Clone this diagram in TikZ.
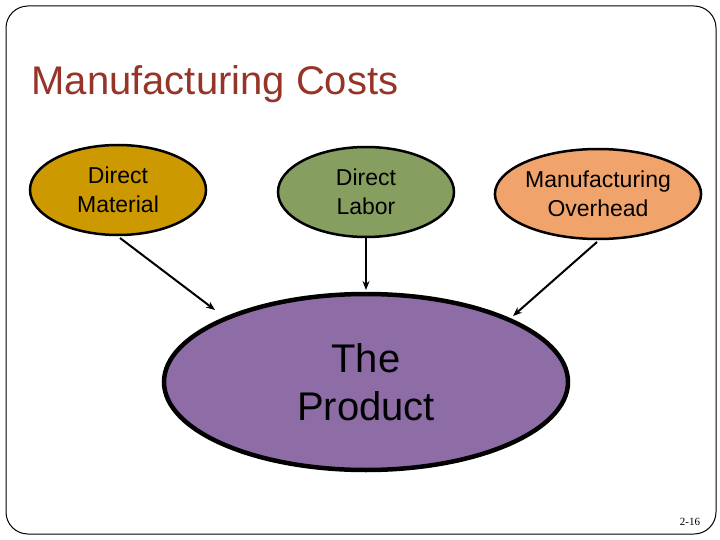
\documentclass[tikz,border=0pt]{standalone}
\usepackage{fontspec}
\setmainfont{Liberation Sans}
\newfontfamily\pagefont{Liberation Serif}
\usetikzlibrary{shapes.geometric,arrows.meta}
\definecolor{titlered}{RGB}{150,52,40}
\definecolor{matgold}{RGB}{204,153,0}
\definecolor{labgreen}{RGB}{134,158,96}
\definecolor{ovhorange}{RGB}{240,164,108}
\definecolor{prodpurple}{RGB}{142,108,166}
\tikzset{
    cost/.style ={
        shape=ellipse,
        draw=black,
        line width=2.5pt,
        minimum width=176pt,
        minimum height=90pt,
        inner sep=0pt,
        align=center,
        font=\fontsize{23}{29}\selectfont
    },
    feed/.style ={
        -{Stealth[length=9pt,width=7pt]},
        line width=2pt
    }
}
\begin{document}
\begin{tikzpicture}[x=1pt,y=-1pt]
    \useasboundingbox (0,0) rectangle (720,540);
    \draw[line width=1pt,rounded corners=22pt] (6,6) rectangle (716,534);
    \node[anchor=west,text=titlered,font=\fontsize{40}{48}\selectfont] (title) at (28,84) {Manufacturing Costs};
    \node[cost,fill=matgold] (material) at (118,190) {Direct\\Material};
    \node[cost,fill=labgreen] (labor) at (366,192) {Direct\\Labor};
    \node[cost,fill=ovhorange,minimum width=172pt] (overhead) at (598,194) {Manufacturing\\Overhead};
    \node[cost,fill=prodpurple,line width=4.5pt,minimum width=404pt,minimum height=176pt,font=\fontsize{40}{48}\selectfont] (product) at (366,382) {The\\Product};
    \node[font=\pagefont\fontsize{11}{13}\selectfont] (page) at (690,522) {2-16};
    \coordinate (m1) at (120,238);
    \coordinate (m2) at (215,310);
    \coordinate (l1) at (366,238);
    \coordinate (l2) at (366,290);
    \coordinate (o1) at (597,242);
    \coordinate (o2) at (513,316);
    \draw[feed] (m1) -- (m2);
    \draw[feed] (l1) -- (l2);
    \draw[feed] (o1) -- (o2);
\end{tikzpicture}
\end{document}
